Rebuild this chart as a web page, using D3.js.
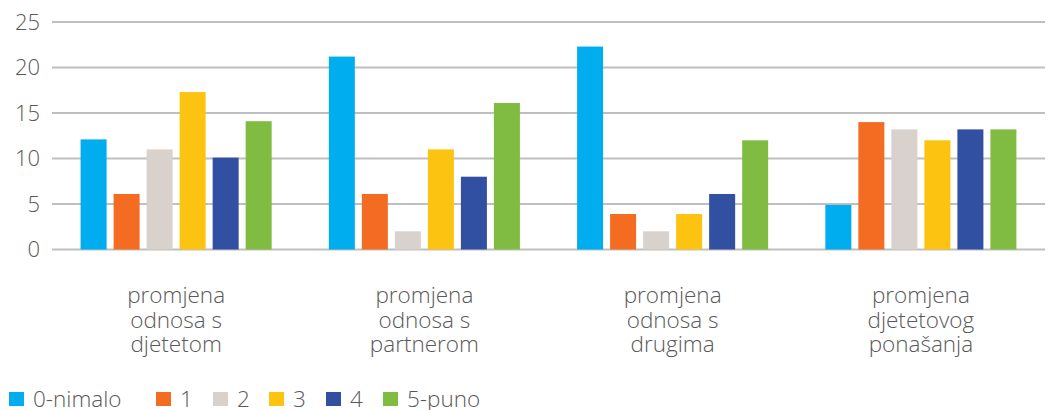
<!DOCTYPE html>
<html>
<head>
<meta charset="utf-8"/>
<script src="https://cdn.jsdelivr.net/npm/d3@7"></script>
<style>
  body { margin: 0; background: #fff; }
  text { font-family: "Open Sans", sans-serif; font-weight: 300; fill: #595959; }
</style>
</head>
<body>
<script>
    var categories = [
        ["promjena", "odnosa s", "djetetom"],
        ["promjena", "odnosa s", "partnerom"],
        ["promjena", "odnosa s", "drugima"],
        ["promjena", "djetetovog", "ponašanja"]
    ];
    var series = ["0-nimalo", "1", "2", "3", "4", "5-puno"];
    var colors = ["#00aeef", "#f36c21", "#d9d2cc", "#fdc311", "#3150a1", "#80bc41"];
    // values per series, one per category
    var values = [
        [12.1, 21.2, 22.3, 4.9],
        [6.1, 6.1, 3.9, 14.0],
        [11.0, 2.0, 2.0, 13.2],
        [17.3, 11.0, 3.9, 12.0],
        [10.1, 8.0, 6.1, 13.2],
        [14.1, 16.1, 12.0, 13.2]
    ];
    var yTicks = [0, 5, 10, 15, 20, 25];

    var w = 1050, h = 410;
    var svg = d3.select("body").append("svg")
        .attr("width", w)
        .attr("height", h);

    var y = d3.scaleLinear().domain([0, 25]).range([249.5, 22]);
    var x0 = d3.scaleBand().domain(d3.range(categories.length)).range([52, 1045]);
    var x1 = d3.scaleBand().domain(d3.range(series.length))
        .range([0, x0.bandwidth()])
        .paddingInner(7 / 33)
        .paddingOuter(0.866);

    // gridlines
    svg.selectAll("line.grid")
        .data(yTicks)
        .enter()
        .append("line")
        .attr("class", "grid")
        .attr("x1", 52)
        .attr("x2", 1045)
        .attr("y1", function(d) { return y(d); })
        .attr("y2", function(d) { return y(d); })
        .attr("stroke", "#bfbfbf")
        .attr("stroke-width", 2.2);

    // y tick labels
    svg.selectAll("text.ytick")
        .data(yTicks)
        .enter()
        .append("text")
        .attr("class", "ytick")
        .attr("x", 40)
        .attr("y", function(d) { return y(d); })
        .attr("dy", "0.35em")
        .attr("text-anchor", "end")
        .style("font-size", "22px")
        .text(function(d) { return d; });

    // bars
    var groups = svg.selectAll("g.cat")
        .data(categories)
        .enter()
        .append("g")
        .attr("class", "cat")
        .attr("transform", function(d, i) { return "translate(" + x0(i) + ",0)"; });

    groups.selectAll("rect")
        .data(function(d, ci) {
            return series.map(function(s, si) { return [si, values[si][ci]]; });
        })
        .enter()
        .append("rect")
        .attr("x", function(d) { return x1(d[0]); })
        .attr("width", x1.bandwidth())
        .attr("y", function(d) { return y(d[1]); })
        .attr("height", function(d) { return y(0) - y(d[1]); })
        .attr("fill", function(d) { return colors[d[0]]; });

    // category labels
    groups.append("text")
        .attr("text-anchor", "middle")
        .style("font-size", "22.5px")
        .selectAll("tspan")
        .data(function(d) { return d; })
        .enter()
        .append("tspan")
        .attr("x", x0.bandwidth() / 2)
        .attr("y", function(d, i) { return 303 + i * 24.5; })
        .text(function(d) { return d; });

    // legend
    var legX = [9, 156, 213, 269, 326, 383];
    var leg = svg.selectAll("g.leg")
        .data(series)
        .enter()
        .append("g")
        .attr("class", "leg")
        .attr("transform", function(d, i) { return "translate(" + legX[i] + ",392)"; });
    leg.append("rect")
        .attr("width", 15)
        .attr("height", 14)
        .attr("fill", function(d, i) { return colors[i]; });
    leg.append("text")
        .attr("x", 24)
        .attr("y", 7)
        .attr("dy", "0.36em")
        .style("font-size", "22.5px")
        .text(function(d) { return d; });
</script>
</body>
</html>
